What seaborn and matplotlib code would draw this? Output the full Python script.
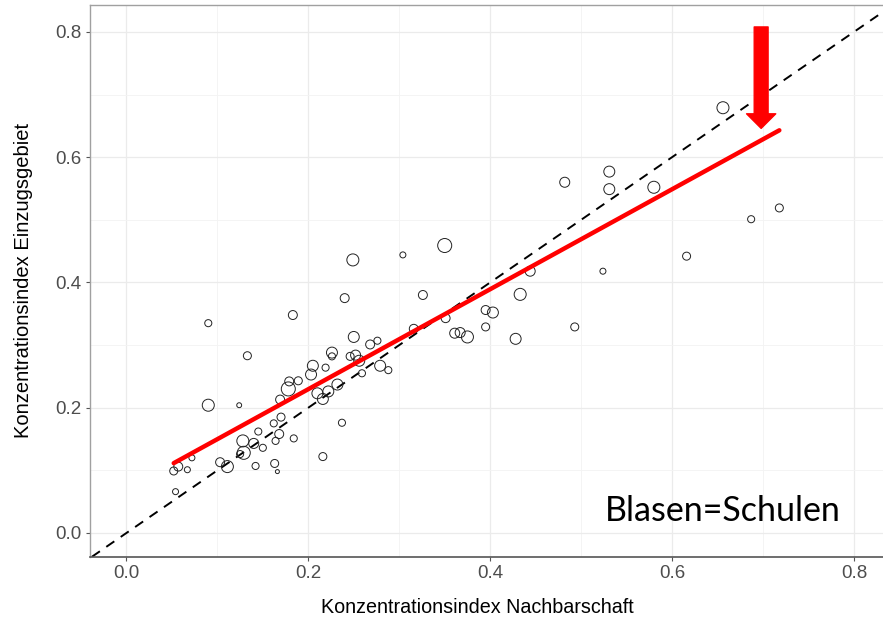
import numpy as np
import pandas as pd
import matplotlib
matplotlib.use('Agg')
import matplotlib.pyplot as plt
from matplotlib.ticker import MultipleLocator
import seaborn as sns

# ==================== Data ====================
nachbarschaft = [
    0.249, 0.304, 0.350, 0.656, 0.531, 0.482, 0.531, 0.580, 0.687, 0.718,
    0.616, 0.524, 0.444, 0.433, 0.395, 0.403, 0.395, 0.428, 0.493, 0.375,
    0.240, 0.326, 0.183, 0.090, 0.133, 0.090, 0.124, 0.250, 0.268, 0.276,
    0.226, 0.226, 0.246, 0.252, 0.256, 0.259, 0.279, 0.288, 0.316, 0.351,
    0.361, 0.367, 0.205, 0.203, 0.219, 0.179, 0.189, 0.178, 0.169, 0.210,
    0.216, 0.222, 0.232, 0.237, 0.216, 0.170, 0.162, 0.168, 0.164, 0.184,
    0.145, 0.128, 0.140, 0.150, 0.129, 0.125, 0.142, 0.163, 0.166, 0.103,
    0.111, 0.072, 0.067, 0.057, 0.052, 0.054,
]
einzugsgebiet = [
    0.436, 0.444, 0.459, 0.679, 0.577, 0.560, 0.549, 0.552, 0.501, 0.519,
    0.442, 0.418, 0.418, 0.381, 0.356, 0.352, 0.329, 0.310, 0.329, 0.313,
    0.375, 0.380, 0.348, 0.335, 0.283, 0.204, 0.204, 0.313, 0.301, 0.307,
    0.288, 0.282, 0.282, 0.284, 0.275, 0.255, 0.267, 0.260, 0.326, 0.343,
    0.319, 0.320, 0.267, 0.253, 0.264, 0.242, 0.243, 0.230, 0.213, 0.223,
    0.214, 0.226, 0.237, 0.176, 0.122, 0.185, 0.175, 0.158, 0.147, 0.151,
    0.162, 0.147, 0.143, 0.136, 0.128, 0.126, 0.107, 0.111, 0.098, 0.113,
    0.106, 0.120, 0.101, 0.106, 0.099, 0.066,
]
# school size (number of pupils), shown as bubble area
schueler = [
    720, 180, 980, 720, 600, 500, 600, 720, 250, 320,
    320, 180, 500, 720, 400, 600, 320, 600, 320, 720,
    400, 400, 400, 250, 320, 720, 120, 600, 400, 250,
    600, 250, 320, 500, 600, 250, 600, 250, 400, 400,
    500, 500, 600, 600, 250, 400, 320, 980, 400, 600,
    600, 600, 600, 250, 320, 320, 250, 400, 250, 250,
    250, 720, 500, 250, 850, 250, 250, 320, 80, 400,
    720, 180, 180, 400, 320, 180,
]
# fitted line shown in the reference (intercept, slope)
fit_intercept = 0.070
fit_slope = 0.798

df = pd.DataFrame({'nachbarschaft': nachbarschaft,
                   'einzugsgebiet': einzugsgebiet,
                   'schueler': schueler})

# ==================== Plot ====================
sns.set_theme(style='white')
plt.rcParams['font.family'] = ['Liberation Sans', 'DejaVu Sans']

fig = plt.figure(figsize=(8.83, 6.27), dpi=100)
ax = fig.add_axes([0.102, 0.112, 0.898, 0.880])

ax.set_xlim(-0.040, 0.832)
ax.set_ylim(-0.038, 0.843)

ax.xaxis.set_major_locator(MultipleLocator(0.2))
ax.xaxis.set_minor_locator(MultipleLocator(0.1))
ax.yaxis.set_major_locator(MultipleLocator(0.2))
ax.yaxis.set_minor_locator(MultipleLocator(0.1))
ax.grid(which='major', color='#EBEBEB', linewidth=0.9, zorder=0)
ax.grid(which='minor', color='#F3F3F3', linewidth=0.6, zorder=0)
ax.set_axisbelow(True)

# bisector
ax.axline((0, 0), slope=1, color='black', linestyle=(0, (5, 4)),
          linewidth=1.4, zorder=2)

sns.scatterplot(data=df, x='nachbarschaft', y='einzugsgebiet', size='schueler',
                sizes=(0, 104), size_norm=(0, 1000), facecolor='none',
                edgecolor='#222222', linewidth=0.7, legend=False, ax=ax, zorder=3)

# fitted line over the data range
x_fit = np.array([df['nachbarschaft'].min(), df['nachbarschaft'].max()])
fit = pd.DataFrame({'x': x_fit, 'y': fit_intercept + fit_slope * x_fit})
sns.lineplot(data=fit, x='x', y='y', color='red', linewidth=3.2, ax=ax, zorder=4)

# arrow marking the gap at the upper end
ax.annotate('', xy=(0.698, 0.646), xytext=(0.698, 0.808),
            arrowprops=dict(arrowstyle='simple,head_length=1.05,head_width=2.1,tail_width=1.0',
                            fc='red', ec='red', mutation_scale=10,
                            shrinkA=0, shrinkB=0), zorder=5)

ax.text(0.785, 0.019, 'Blasen=Schulen', ha='right', va='baseline',
        fontsize=24.5, family=['Lato', 'DejaVu Sans'], color='black', zorder=6)

ax.set_xlabel('Konzentrationsindex Nachbarschaft', fontsize=14.2, color='black')
ax.set_ylabel('Konzentrationsindex Einzugsgebiet', fontsize=14.5, color='black', labelpad=16)
ax.xaxis.set_label_coords(0.488, -0.075)
ax.tick_params(axis='both', which='major', labelsize=13.5, labelcolor='#4D4D4D',
               length=3, width=0.8, color='#555555', pad=3, bottom=True, left=True)
ax.tick_params(axis='both', which='minor', length=0)
ax.set_xticklabels([f'{v:.1f}' for v in ax.get_xticks()])
ax.set_yticklabels([f'{v:.1f}' for v in ax.get_yticks()])

for side in ['left', 'top']:
    ax.spines[side].set_color('#A0A0A0')
    ax.spines[side].set_linewidth(1.0)
ax.spines['bottom'].set_color('#555555')
ax.spines['bottom'].set_linewidth(1.2)
ax.spines['right'].set_visible(False)

fig.savefig('out.png', dpi=100)
